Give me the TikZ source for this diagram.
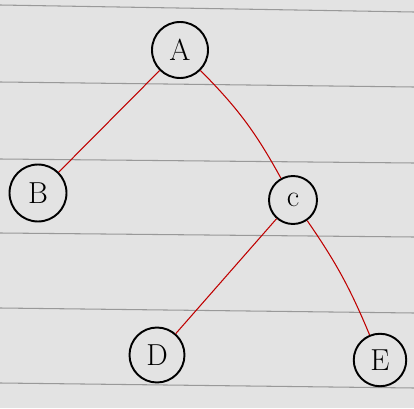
\documentclass[tikz,border=0pt]{standalone}
\begin{document}
\begin{tikzpicture}[
  every node/.style={circle, draw, line width=1.1pt, minimum size=10.5mm, font=\LARGE},
  edge/.style={draw=red!75!black, semithick},
  rule/.style={draw=black!40, semithick}
]
\fill[black!11] (0,0) rectangle (8.28,8.16);
\useasboundingbox (0,0) rectangle (8.28,8.16);
% ruled paper
\foreach \yl/\yr in {8.06/7.92, 6.52/6.42, 4.98/4.90, 3.50/3.42, 2.00/1.90, 0.50/0.40}
  \draw[rule] (0,\yl) -- (8.28,\yr);
\node[minimum size=11.2mm] (a) at (3.60,7.16) {A};
\node[minimum size=11.4mm] (b) at (0.76,4.30) {B};
\node[minimum size=9.6mm] (c) at (5.86,4.16) {c};
\node[minimum size=11mm] (d) at (3.14,1.06) {D};
\node (e) at (7.60,0.96) {E};
\draw[edge] (a) -- (b);
\draw[edge] (a) to[bend left=8] (c);
\draw[edge] (c) -- (d);
\draw[edge] (c) to[bend left=6] (e);
\end{tikzpicture}
\end{document}
